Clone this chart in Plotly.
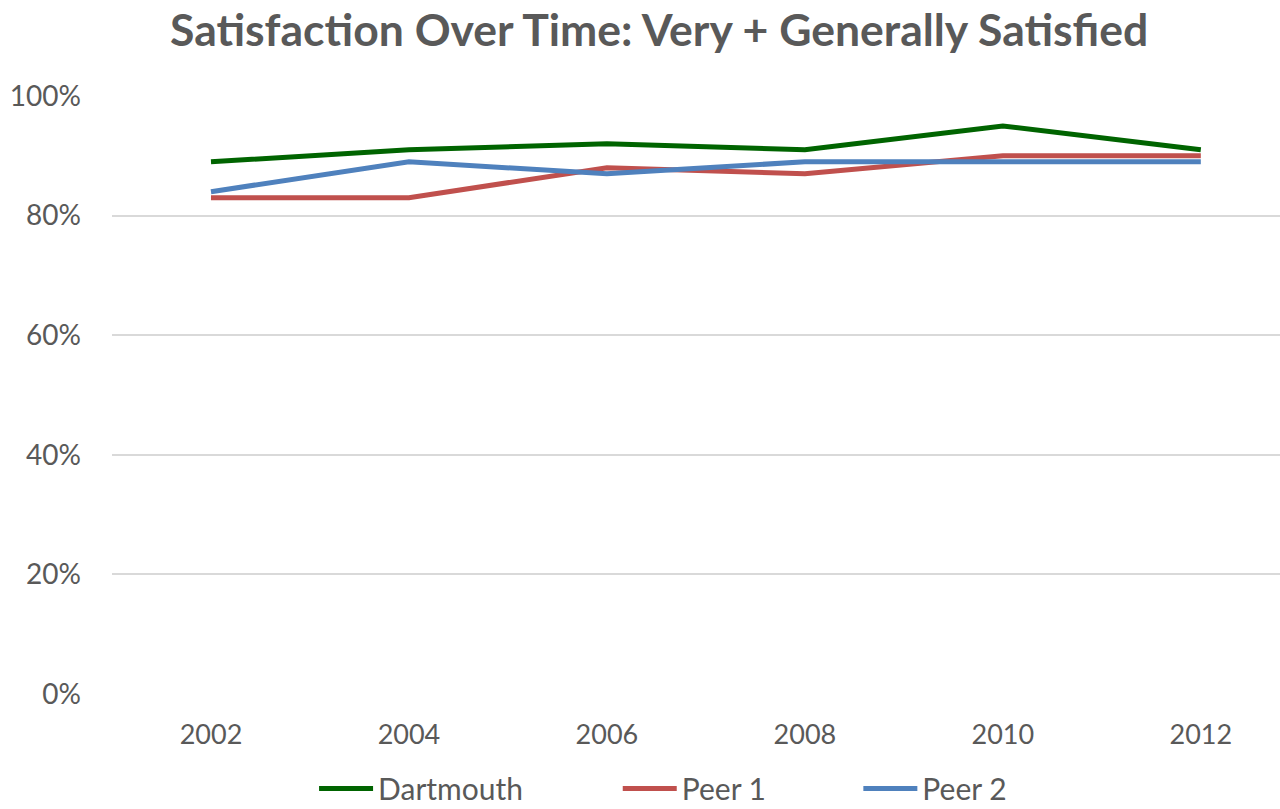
import plotly.graph_objects as go

years = ["2002", "2004", "2006", "2008", "2010", "2012"]
dartmouth = [89, 91, 92, 91, 95, 91]
peer1 = [83, 83, 88, 87, 90, 90]
peer2 = [84, 89, 87, 89, 89, 89]

names = ["Dartmouth", "Peer 1", "Peer 2"]
colors = ["#006400", "#C0504D", "#4F81BD"]
series = [dartmouth, peer1, peer2]
legend_x = [0.173, 0.433, 0.639]
legend_ids = ["legend", "legend2", "legend3"]

FONT = "Lato"
GREY = "#595959"

fig = go.Figure()
for name, col, vals, lid in zip(names, colors, series, legend_ids):
    fig.add_trace(go.Scatter(
        x=years, y=vals, name=name, mode="lines",
        line=dict(color=col, width=5),
        legend=lid, showlegend=True,
    ))

legend_common = dict(
    orientation="h", yanchor="middle", y=-0.158, xanchor="left",
    font=dict(family=FONT, size=30, color=GREY),
    itemwidth=54, bgcolor="rgba(0,0,0,0)", tracegroupgap=0,
)

fig.update_layout(
    width=1280, height=809, showlegend=True,
    paper_bgcolor="white", plot_bgcolor="white",
    margin=dict(l=112, r=0, t=96, b=115, autoexpand=False),
    title=dict(
        text="<b>Satisfaction Over Time: Very + Generally Satisfied</b>",
        x=0.515, xanchor="center", y=0.962, yanchor="middle",
        font=dict(family=FONT, size=44.5, color=GREY),
    ),
    legend=dict(x=legend_x[0], **legend_common),
    legend2=dict(x=legend_x[1], **legend_common),
    legend3=dict(x=legend_x[2], **legend_common),
    xaxis=dict(
        type="category", range=[-0.5, 5.4], automargin=False,
        showgrid=False, showline=False, zeroline=False,
        ticks="", tickfont=dict(family=FONT, size=27, color=GREY),
        ticklabelstandoff=22,
    ),
    yaxis=dict(
        range=[0, 100], automargin=False,
        showgrid=True, gridcolor="#D9D9D9", gridwidth=1.5,
        zeroline=False, showline=False,
        tickvals=[0, 20, 40, 60, 80, 100],
        ticktext=["0%", "20%", "40%", "60%", "80%", "100%"],
        tickfont=dict(family=FONT, size=28, color=GREY),
        ticklabelstandoff=30,
    ),
)

fig.write_html("out.html", config={"displayModeBar": False},
               post_script="document.body.style.margin='0';")
